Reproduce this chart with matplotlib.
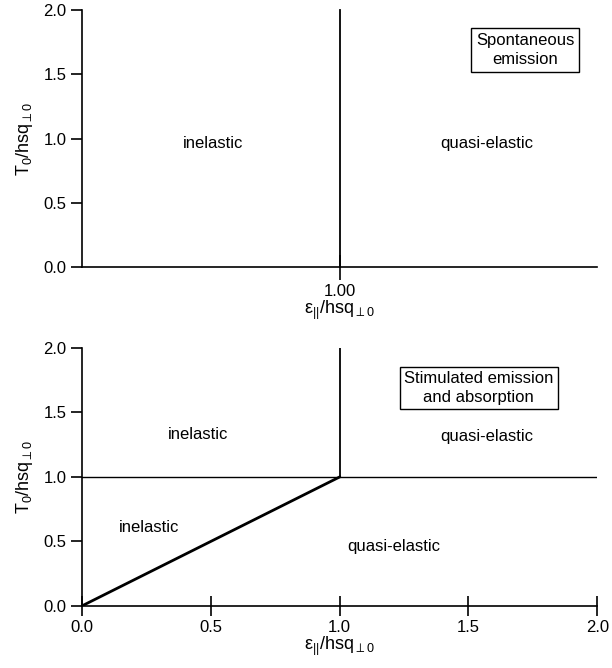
import matplotlib
matplotlib.use("Agg")
import matplotlib.pyplot as plt

plt.rcParams['font.family'] = ['Liberation Sans', 'DejaVu Sans']
plt.rcParams['mathtext.fontset'] = 'custom'
plt.rcParams['mathtext.rm'] = 'Liberation Sans'
plt.rcParams['mathtext.it'] = 'Liberation Sans'
plt.rcParams['mathtext.default'] = 'regular'

# Top panel (spontaneous emission): boundary line
top_boundary_x = [1.0, 1.0]
top_boundary_y = [0.0, 2.0]
top_labels = ["inelastic", "quasi-elastic"]
top_label_pos = [(0.51, 0.96), (1.57, 0.96)]
top_box = "Spontaneous\nemission"
top_box_pos = (1.72, 1.69)

# Bottom panel (stimulated emission and absorption)
diag_x = [0.0, 1.0]
diag_y = [0.0, 1.0]
horiz_x = [0.0, 2.0]
horiz_y = [1.0, 1.0]
vert_x = [1.0, 1.0]
vert_y = [1.0, 2.0]
bottom_labels = ["inelastic", "quasi-elastic", "inelastic", "quasi-elastic"]
bottom_label_pos = [(0.45, 1.33), (1.57, 1.31), (0.26, 0.61), (1.21, 0.46)]
bottom_box = "Stimulated emission\nand absorption"
bottom_box_pos = (1.54, 1.69)

yticks = [0.0, 0.5, 1.0, 1.5, 2.0]
xticks_bottom = [0.0, 0.5, 1.0, 1.5, 2.0]
xticks_top = [1.0]

ylabel = r'T$_0$/hsq$_{\perp0}$'
xlabel = r'ε$_{||}$/hsq$_{\perp0}$'

fig = plt.figure(figsize=(6.12, 6.68), dpi=100)
ax1 = fig.add_axes([0.134, 0.600, 0.842, 0.385])
ax2 = fig.add_axes([0.134, 0.093, 0.842, 0.386])

fs = 12
for ax in (ax1, ax2):
    ax.set_xlim(0, 2)
    ax.set_ylim(0, 2)
    ax.spines['top'].set_visible(False)
    ax.spines['right'].set_visible(False)
    ax.spines['left'].set_linewidth(1.2)
    ax.spines['bottom'].set_linewidth(1.2)
    ax.set_yticks(yticks)
    ax.set_yticklabels([f"{v:.1f}" for v in yticks], fontsize=fs)
    ax.tick_params(axis='y', direction='out', length=8, width=1.2, pad=3)
    ax.set_ylabel(ylabel, fontsize=13, labelpad=6)
    ax.set_xlabel(xlabel, fontsize=13, labelpad=0)

# Top panel
ax1.plot(top_boundary_x, top_boundary_y, color='black', lw=1.3, clip_on=False)
ax1.set_xticks(xticks_top)
ax1.set_xticklabels([f"{v:.2f}" for v in xticks_top], fontsize=fs)
ax1.tick_params(axis='x', direction='inout', length=18, width=1.2, pad=3)
for t, (x, y) in zip(top_labels, top_label_pos):
    ax1.text(x, y, t, ha='center', va='center', fontsize=fs)
ax1.text(top_box_pos[0], top_box_pos[1], top_box, ha='center', va='center',
         fontsize=fs, linespacing=1.35,
         bbox=dict(boxstyle='square,pad=0.3', fc='white', ec='black', lw=1.0))

# Bottom panel
ax2.plot(diag_x, diag_y, color='black', lw=2.0)
ax2.plot(horiz_x, horiz_y, color='black', lw=1.0)
ax2.plot(vert_x, vert_y, color='black', lw=1.3)
ax2.set_xticks(xticks_bottom)
ax2.set_xticklabels([f"{v:.1f}" for v in xticks_bottom], fontsize=fs)
ax2.tick_params(axis='x', direction='inout', length=14, width=1.2, pad=3)
for t, (x, y) in zip(bottom_labels, bottom_label_pos):
    ax2.text(x, y, t, ha='center', va='center', fontsize=fs)
ax2.text(bottom_box_pos[0], bottom_box_pos[1], bottom_box, ha='center', va='center',
         fontsize=fs, linespacing=1.35,
         bbox=dict(boxstyle='square,pad=0.25', fc='white', ec='black', lw=1.0))

fig.savefig("out.png", dpi=100)
